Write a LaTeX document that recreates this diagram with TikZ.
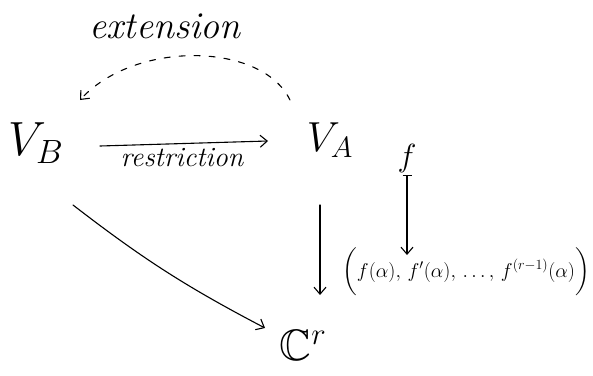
\documentclass[tikz,border=0pt]{standalone}
\usepackage{fix-cm}
\usepackage{amsmath,amssymb}
\usetikzlibrary{arrows.meta}
\begin{document}
\begin{tikzpicture}[x=1pt,y=-1pt,
  hand/.style={line width=1.1pt, line cap=round},
  arr/.style={hand,-{Straight Barb[length=7pt,width=12pt]}},
  lbl/.style={inner sep=0pt}]
\useasboundingbox (0,0) rectangle (593,375);
\node[lbl] (ext) at (165,26) {\fontsize{38}{44}\selectfont\itshape extension};
\node[lbl] (VB) at (36,143) {\fontsize{48}{56}\selectfont $V_B$};
\node[lbl] (VA) at (330,140) {\fontsize{42}{50}\selectfont $V_A$};
\node[lbl] (res) at (182,158) {\fontsize{28}{32}\selectfont\itshape restriction};
\node[lbl] (f) at (407,158) {\fontsize{32}{36}\selectfont $f$};
\node[lbl] (tup) at (466,272) {\fontsize{20}{24}\selectfont $\bigg(f(\alpha),\, f'(\alpha),\, \dots,\, f^{(r-1)}(\alpha)\bigg)$};
\node[lbl] (C) at (303,345) {\fontsize{44}{52}\selectfont $\mathbb{C}^r$};
\draw[arr, dash pattern=on 6pt off 9pt] ([xshift=-40pt,yshift=40pt]VA.center) .. controls (262,42) and (135,40) .. ([xshift=44pt,yshift=43pt]VB.center);
\draw[arr] ([xshift=64pt,yshift=-3pt]VB.center) -- ([xshift=-62pt,yshift=-1pt]VA.center);
\draw[arr] ([xshift=-10pt,yshift=-65pt]VA.center) -- ([xshift=17pt,yshift=50pt]C.center);
\draw[arr] ([xshift=37pt,yshift=-62pt]VB.center) to[bend right=5] ([xshift=-38pt,yshift=17pt]C.center);
\draw[hand, {Bar[width=9pt]}-{Straight Barb[length=7pt,width=12pt]}] ([yshift=-17pt]f.center) -- ([xshift=-59pt,yshift=17pt]tup.center);
\end{tikzpicture}
\end{document}
